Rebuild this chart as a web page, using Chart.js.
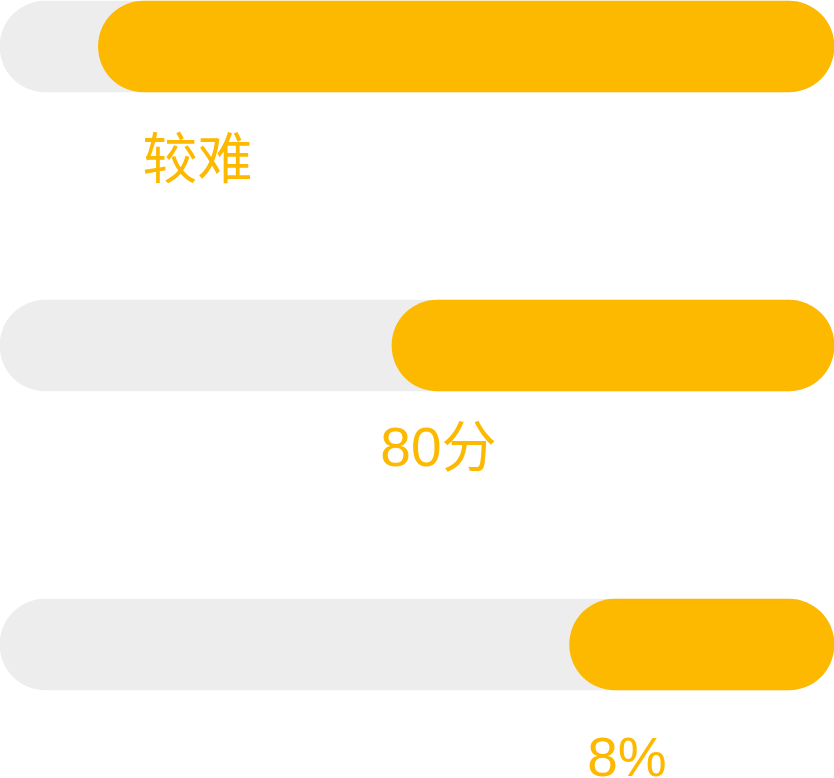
<!DOCTYPE html>
<html>
<head>
<meta charset="utf-8">
<script src="https://cdn.jsdelivr.net/npm/chart.js@4"></script>
<style>
  html, body { margin: 0; padding: 0; background: #ffffff; }
  #wrap { width: 834px; height: 778px; position: relative; }
</style>
</head>
<body>
<div id="wrap"><canvas id="c"></canvas></div>
<script>
// ---- data ----
const categories = ['难度', '分数', '比例'];
const labels = ['较难', '80分', '8%'];
const trackStart = [0, 0, 0];
const trackEnd = [100, 100, 100];
const barStart = [11.8, 47.0, 68.3];
const barEnd = [100, 100, 100];

const ORANGE = '#FDB900';
const GREY = '#EDEDED';

const labelPlugin = {
  id: 'rowLabels',
  afterDatasetsDraw(chart, args, opts) {
    const ctx = chart.ctx;
    const xs = chart.scales.x;
    const ys = chart.scales.y;
    ctx.save();
    ctx.fillStyle = opts.color;
    ctx.font = opts.font;
    ctx.textAlign = 'left';
    ctx.textBaseline = 'alphabetic';
    labels.forEach((t, i) => {
      const x = xs.getPixelForValue(opts.at[i]);
      const y = ys.getPixelForValue(i) + opts.dy[i];
      ctx.fillText(t, x, y);
    });
    ctx.restore();
  }
};

new Chart(document.getElementById('c'), {
  type: 'bar',
  data: {
    labels: categories,
    datasets: [
      {
        data: barStart.map((s, i) => [s, barEnd[i]]),
        backgroundColor: ORANGE,
        borderRadius: 46,
        borderSkipped: false,
        barThickness: 91,
        grouped: false,
        clip: false,
        order: 0
      },
      {
        data: trackStart.map((s, i) => [s, trackEnd[i]]),
        backgroundColor: GREY,
        borderRadius: 46,
        borderSkipped: false,
        barThickness: 91,
        grouped: false,
        clip: false,
        order: 1
      }
    ]
  },
  options: {
    indexAxis: 'y',
    responsive: true,
    maintainAspectRatio: false,
    animation: false,
    layout: { padding: { top: 46.5, bottom: 133.5, left: 0, right: 0 } },
    scales: {
      x: { display: false, min: 0, max: 100 },
      y: { display: false, offset: false }
    },
    plugins: {
      legend: { display: false },
      tooltip: { enabled: false },
      rowLabels: {
        color: ORANGE,
        font: '55px "Liberation Sans", "Noto Sans CJK SC", sans-serif',
        at: [17.1, 45.6, 70.4],
        dy: [131, 120.5, 131.5]
      }
    }
  },
  plugins: [labelPlugin]
});
</script>
</body>
</html>
